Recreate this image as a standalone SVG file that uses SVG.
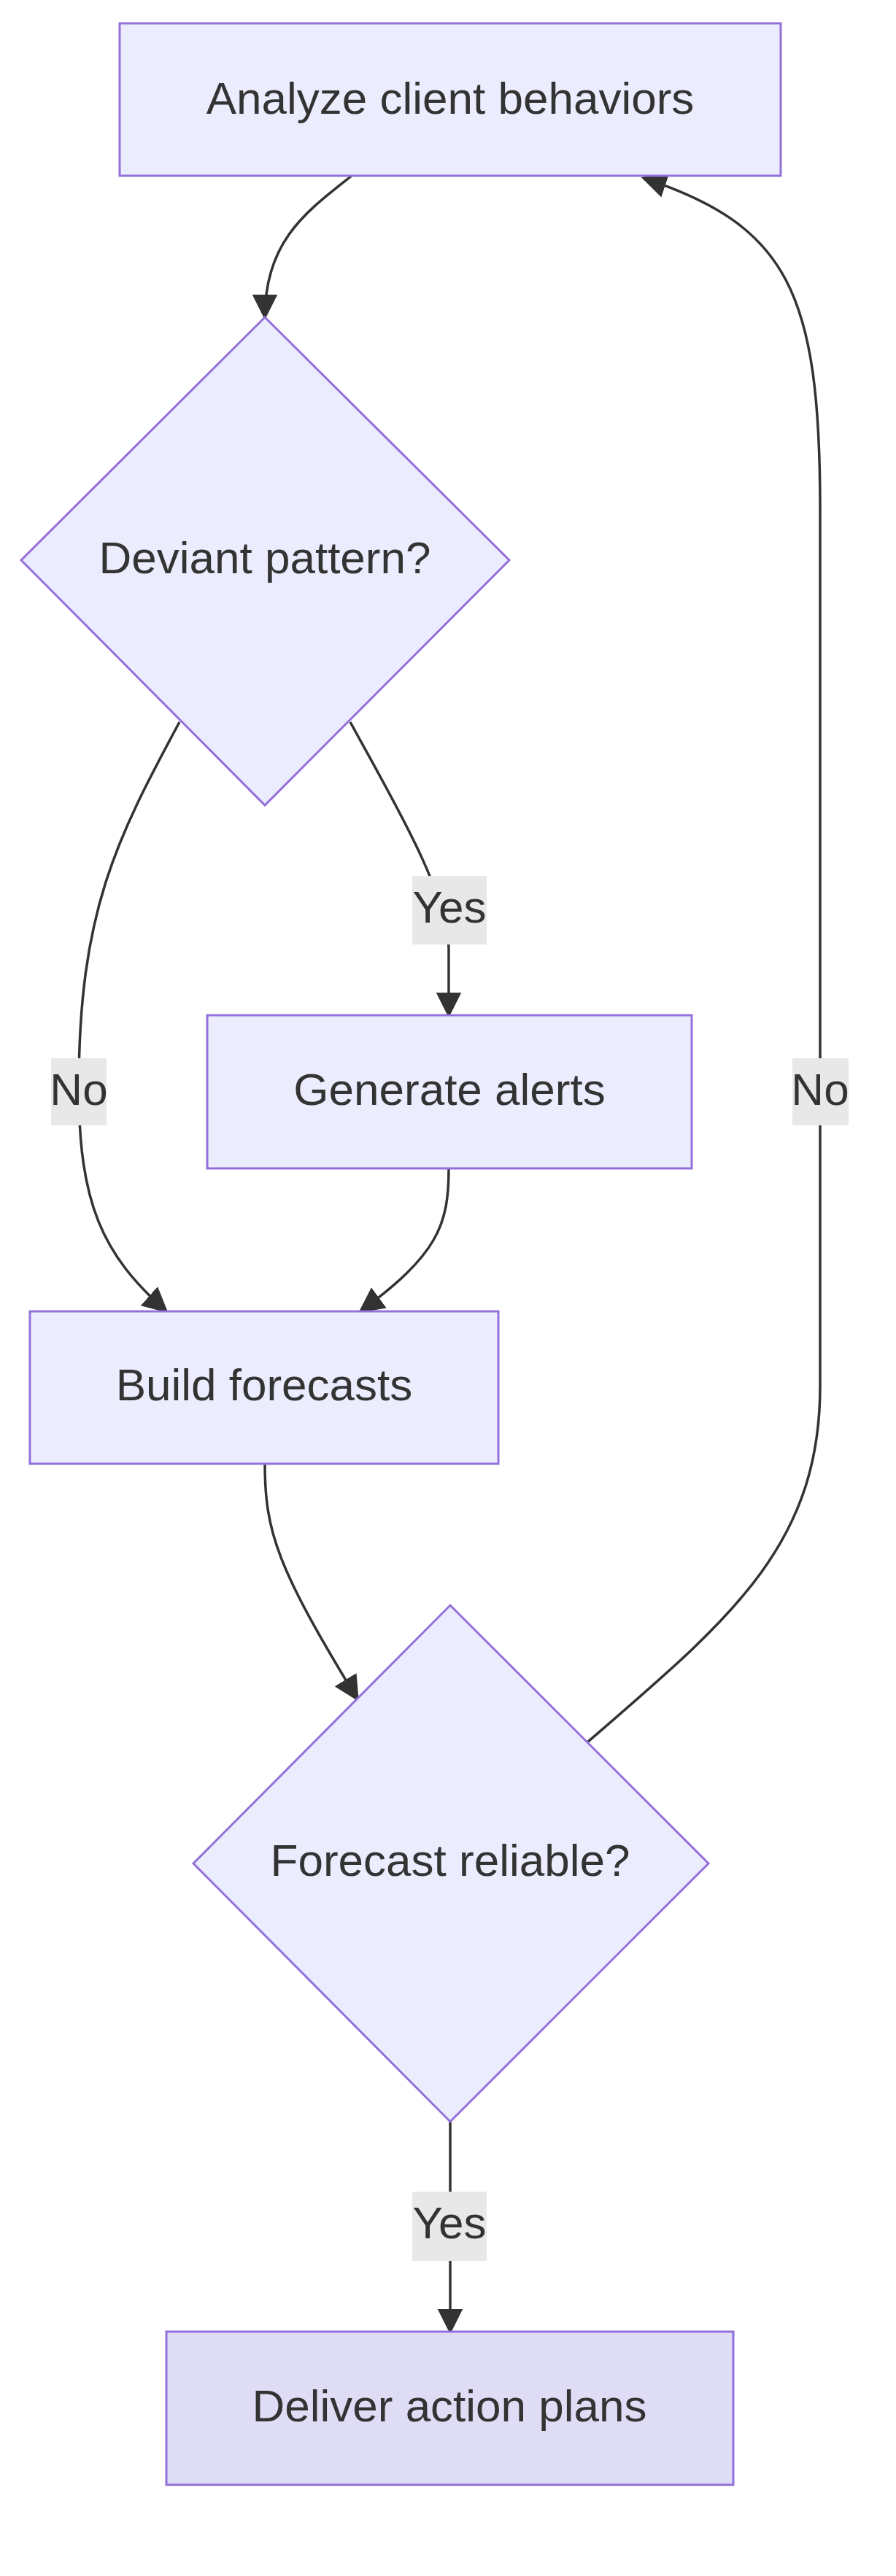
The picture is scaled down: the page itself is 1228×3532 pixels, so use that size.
<svg xmlns="http://www.w3.org/2000/svg" width="1228" height="3532" viewBox="0 0 1228 3532">
<style>
.n{fill:#ECECFF;stroke:#9370DB;stroke-width:3}
.t{font-family:"Liberation Sans",Arial,sans-serif;font-size:62px;fill:#333;text-anchor:middle;dominant-baseline:central}
.e{fill:none;stroke:#333;stroke-width:3.5}
.lb{fill:#e8e8e8}
</style>
<defs><marker id="a" viewBox="0 0 10 10" refX="9" refY="5" markerWidth="9" markerHeight="9" markerUnits="userSpaceOnUse" orient="auto"><path d="M0,0L10,5L0,10z" fill="#333"/></marker>
<marker id="b" viewBox="0 0 10 10" refX="9" refY="5" markerWidth="10" markerHeight="10" orient="auto"><path d="M0,0L10,5L0,10z" fill="#333"/></marker></defs>
<rect width="1228" height="3532" fill="#fff"/>
<g id="edges">
<path class="e" marker-end="url(#b)" d="M482,241 C420,290 363,330 363,435"/>
<path class="e" marker-end="url(#b)" d="M480,990 C540,1100 612,1220 615,1300 L615,1392"/>
<path class="e" marker-end="url(#b)" d="M246,990 C160,1150 108,1250 108,1491 C108,1650 140,1720 228,1798"/>
<path class="e" marker-end="url(#b)" d="M615,1602 C615,1680 600,1720 494,1798"/>
<path class="e" marker-end="url(#b)" d="M363,2007 C363,2100 380,2150 490,2330"/>
<path class="e" marker-end="url(#b)" d="M806,2388 C1000,2220 1124,2120 1124,1900 L1124,700 C1124,400 1080,310 882,244"/>
<path class="e" marker-end="url(#b)" d="M617,2909 L617,3197"/>
<rect class="lb" x="565" y="1201" width="102" height="94"/><text class="t" x="616" y="1243">Yes</text>
<rect class="lb" x="70" y="1451" width="76" height="92"/><text class="t" x="108" y="1493">No</text>
<rect class="lb" x="1086" y="1451" width="77" height="92"/><text class="t" x="1124" y="1493">No</text>
<rect class="lb" x="565" y="3005" width="102" height="95"/><text class="t" x="616" y="3047">Yes</text>
</g>
<g id="analyze"><rect class="n" x="164" y="32" width="906" height="209"/><text class="t" x="617" y="134">Analyze client behaviors</text></g>
<g id="deviant"><polygon class="n" points="363,435 698,768 363,1104 29,768"/><text class="t" x="363" y="764">Deviant pattern?</text></g>
<g id="alerts"><rect class="n" x="284" y="1392" width="664" height="210"/><text class="t" x="616" y="1493">Generate alerts</text></g>
<g id="build"><rect class="n" x="41" y="1798" width="642" height="209"/><text class="t" x="362" y="1898">Build forecasts</text></g>
<g id="reliable"><polygon class="n" points="617,2201 971,2555 617,2909 265,2555"/><text class="t" x="617" y="2550">Forecast reliable?</text></g>
<g id="deliver"><rect class="n" x="228" y="3197" width="777" height="210" style="fill:#DFDCF5"/><text class="t" x="616" y="3298">Deliver action plans</text></g>
</svg>
